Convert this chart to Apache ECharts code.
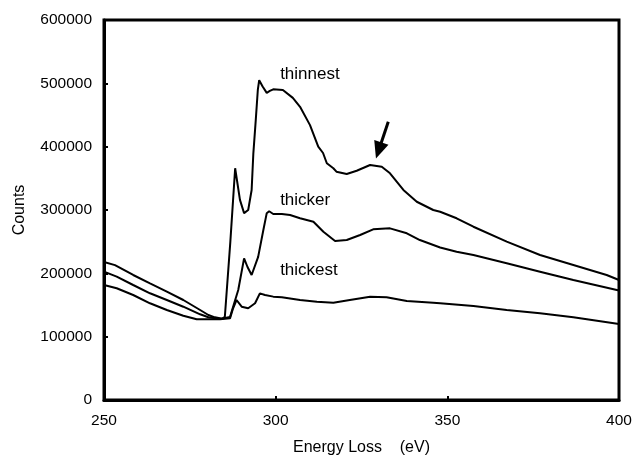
<!DOCTYPE html>
<html>
<head>
<meta charset="utf-8">
<style>
html,body{margin:0;padding:0;background:#fff;}
#chart{width:634px;height:456px;}
</style>
<script src="https://cdn.jsdelivr.net/npm/echarts@6/dist/echarts.min.js"></script>
</head>
<body>
<div id="chart"></div>
<script>
// Energy loss (eV), counts pairs
var thinnest = [
  [250,218000],[253.2,213000],[258.5,197400],[263.4,184200],[268.3,171100],[273.1,157900],
  [278,142100],[280.4,134200],[282.3,130500],[284.5,128500],[285.2,131500],[286.8,250000],
  [288.2,365900],[289.6,316000],[290.8,295000],[292.0,300000],[293.0,331600],[293.5,389500],
  [294.2,442000],[294.8,489500],[295.2,505000],[296.2,495000],[297.4,485000],[298.3,488000],
  [299.3,490600],[302.1,489500],[305.0,477000],[307.1,463000],[310.0,434000],[312.4,400000],
  [313.8,390000],[314.9,373800],[316.8,365900],[317.7,360500],[320.7,356900],[323.6,362000],
  [327.5,371000],[330.9,368400],[333.3,358000],[337.2,331600],[341.1,313000],[345.9,300000],
  [347.9,297300],[352.7,286900],[357.6,273600],[367.3,250000],[377.0,229000],[386.7,213200],
  [396.4,197400],[400,189500]
];
var thicker = [
  [250,202600],[253.7,194700],[258.5,181600],[263.4,168500],[268.3,157900],[273.1,147300],
  [278,135300],[280.4,130600],[283.8,128000],[286.7,131000],[289.1,173700],[290.8,223700],
  [291.8,210000],[293.0,197400],[294.9,226000],[296.4,268000],[297.4,295000],[298.1,298000],
  [299.3,293700],[301.8,293700],[304.2,292000],[307.1,287000],[311.0,281500],[313.9,265700],
  [317.3,251000],[320.7,252600],[324.6,260500],[328.4,269500],[333.3,271000],[338.2,263200],
  [342.0,252600],[347.9,240800],[352.7,234200],[357.6,229000],[367.3,215800],[377.0,202600],
  [386.7,189500],[400,173000]
];
var thickest = [
  [250,181600],[253.7,176400],[258.5,165800],[263.4,152700],[268.3,142100],[273.1,133000],
  [277,127400],[283.8,127400],[286.7,128900],[287.6,144800],[288.6,157900],[290.1,147300],
  [292.0,144800],[294.0,152700],[295.4,168400],[296.9,165800],[299.3,163200],[301.8,162200],
  [307.1,158000],[312.0,155200],[316.8,153600],[321.6,157900],[327.5,163200],[332.3,162200],
  [338.2,156300],[345.9,153600],[347.9,152700],[357.6,148400],[367.3,142100],[377.0,136800],
  [386.7,130500],[400,120000]
];
var seriesNames = ['thinnest','thicker','thickest'];
var labelCoords = [[301.3,514700],[301.3,315800],[301.3,205300]];
var arrowFrom = [332.8,439400];
var arrowTo = [330.0,394000];
var xTicks = [250,300,350,400];
var yTicks = [0,100000,200000,300000,400000,500000,600000];

var FONT = 'Liberation Sans, Arial, Helvetica, sans-serif';
var chart = echarts.init(document.getElementById('chart'), null, {renderer:'canvas'});
var datasets = [thinnest, thicker, thickest];

var series = datasets.map(function(d, i){
  var s = {
    name: seriesNames[i],
    type: 'line',
    data: d,
    showSymbol: false,
    symbol: 'none',
    lineStyle: {color:'#000', width:2},
    emphasis: {disabled:true},
    silent: true,
    z: 3,
    markPoint: {
      symbol: 'circle',
      symbolSize: 0,
      silent: true,
      data: [{coord: labelCoords[i], value: seriesNames[i]}],
      label: {
        show: true, position: 'right', distance: 0,
        formatter: seriesNames[i],
        color: '#000', fontSize: 17, fontFamily: FONT
      }
    }
  };
  if (i === 0) {
    s.markLine = {
      silent: true,
      symbol: ['none','triangle'],
      symbolSize: [15, 17],
      label: {show:false},
      lineStyle: {color:'#000', width:3, type:'solid'},
      data: [[{coord: arrowFrom}, {coord: arrowTo}]]
    };
  }
  return s;
});

chart.setOption({
  animation: false,
  backgroundColor: '#fff',
  grid: {left:104, right:15, top:20, bottom:56, show:true, borderColor:'#000', borderWidth:3,
         containLabel:false, outerBoundsMode:'none'},
  xAxis: {
    type: 'value', min: xTicks[0], max: xTicks[xTicks.length-1], interval: 50,
    name: 'Energy Loss    (eV)', nameLocation: 'middle', nameGap: 40,
    nameTextStyle: {color:'#000', fontSize:16, fontFamily:FONT},
    axisLine: {show:true, lineStyle:{color:'#000', width:3}},
    axisTick: {show:true, inside:true, length:4, lineStyle:{color:'#000', width:2}},
    axisLabel: {color:'#000', fontSize:15.5, fontFamily:FONT, margin:13},
    splitLine: {show:false}
  },
  yAxis: {
    type: 'value', min: yTicks[0], max: yTicks[yTicks.length-1], interval: 100000,
    name: 'Counts', nameLocation: 'middle', nameGap: 76, nameRotate: 90,
    nameTextStyle: {color:'#000', fontSize:16, fontFamily:FONT},
    axisLine: {show:true, lineStyle:{color:'#000', width:3}},
    axisTick: {show:true, inside:true, length:4, lineStyle:{color:'#000', width:2}},
    axisLabel: {color:'#000', fontSize:15.5, fontFamily:FONT, margin:12,
      formatter: function(v){ return String(v); }},
    splitLine: {show:false}
  },
  series: series
});
</script>
</body>
</html>
